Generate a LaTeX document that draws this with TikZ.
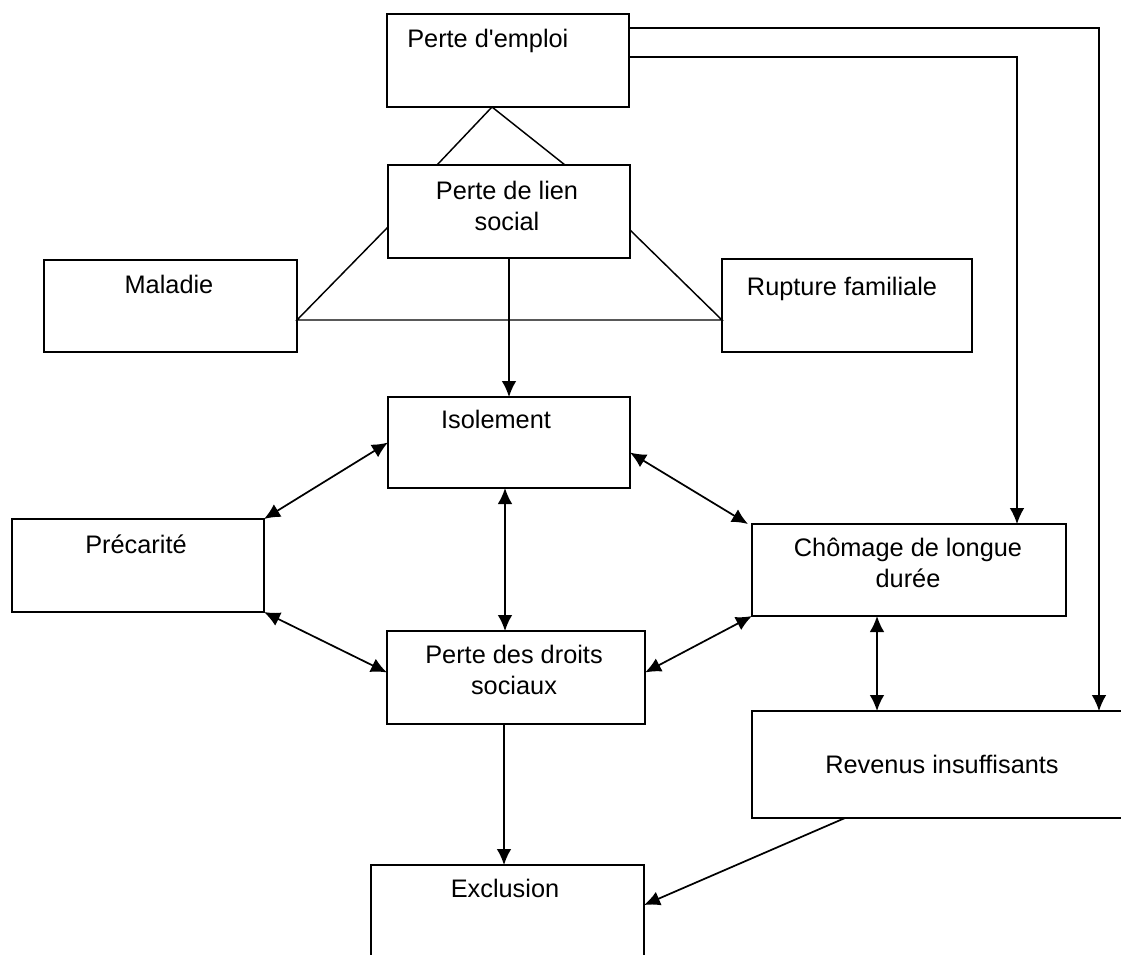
\documentclass[tikz,border=0pt]{standalone}
\usepackage{fontspec}
\setmainfont{Liberation Sans}
\usetikzlibrary{arrows.meta,calc}
\tikzset{
  box/.style={draw=black,line width=1.4pt,inner sep=0pt,outer sep=0pt},
  lbl/.style={font=\fontsize{19}{23.25}\selectfont,inner sep=0pt,align=center},
  ln/.style={line width=1.1pt},
  tip/.tip={Latex[length=12pt,width=11pt]},
  arr/.style={line width=1.3pt,-tip},
  darr/.style={line width=1.3pt,tip-tip}
}
\begin{document}
\begin{tikzpicture}[x=0.75pt,y=-0.75pt]
\useasboundingbox (0,0) rectangle (1121,954);
\clip (0,0) rectangle (1121,954);
% boxes
\node[box,minimum width=181.5pt,minimum height=69.75pt] (emploi) at (508,60.5) {};
\node[box,minimum width=181.5pt,minimum height=69.75pt] (lien) at (509,211.5) {};
\node[box,minimum width=189.75pt,minimum height=69pt] (maladie) at (170.5,306) {};
\node[box,minimum width=187.5pt,minimum height=69.75pt] (rupture) at (847,305.5) {};
\node[box,minimum width=181.5pt,minimum height=68.25pt] (isolement) at (509,442.5) {};
\node[box,minimum width=189pt,minimum height=69.75pt] (precarite) at (138,565.5) {};
\node[box,minimum width=235.5pt,minimum height=69pt] (chomage) at (909,570) {};
\node[box,minimum width=193.5pt,minimum height=69.75pt] (droits) at (516,677.5) {};
\node[box,minimum width=283.5pt,minimum height=80.25pt] (revenus) at (941,764.5) {};
\node[box,minimum width=204.75pt,minimum height=82.5pt] (exclusion) at (507.5,920) {};
% texts
\node[lbl,anchor=base west] (temploi) at (407,47) {Perte d\textquotesingle emploi};
\node[lbl,anchor=base] (tlien) at (507,230) {Perte de lien\\social};
\node[lbl,anchor=base] (tmaladie) at (169,293) {Maladie};
\node[lbl,anchor=base] (trupture) at (842,295) {Rupture familiale};
\node[lbl,anchor=base] (tisolement) at (496,428) {Isolement};
\node[lbl,anchor=base] (tprecarite) at (136,553) {Précarité};
\node[lbl,anchor=base] (tchomage) at (908,587) {Chômage de longue\\durée};
\node[lbl,anchor=base] (tdroits) at (514,694) {Perte des droits\\sociaux};
\node[lbl,anchor=base] (trevenus) at (942,773) {Revenus insuffisants};
\node[lbl,anchor=base] (texclusion) at (505,897) {Exclusion};
% plain links
\draw[ln] ($(lien.north)+(-72,0)$) -- ($(emploi.south)+(-16,0)$) -- ($(lien.north)+(56,0)$);
\draw[ln] ($(lien.west)+(0,15.5)$) -- ($(maladie.south east)+(0,-32)$) -- ($(rupture.south west)+(0,-32)$) -- ($(lien.east)+(0,18.5)$);
% arrows
\draw[arr] (lien.south) -- (isolement.north);
\draw[darr] (precarite.north east) -- (isolement.west);
\draw[darr] ($(isolement.east)+(0,10)$) -- ($(chomage.north west)+(-4,0)$);
\draw[darr] ($(isolement.south)+(-4,0)$) -- ($(droits.north)+(-11,0)$);
\draw[darr] (precarite.south east) -- ($(droits.west)+(0,-5)$);
\draw[darr] (chomage.south west) -- ($(droits.east)+(0,-5)$);
\draw[darr] ($(chomage.south)+(-32,0)$) -- ($(revenus.north)+(-64,0)$);
\draw[arr] ($(droits.south)+(-12,0)$) -- ($(exclusion.north)+(-3.5,0)$);
\draw[arr] ($(revenus.south west)+(93,0)$) -- ($(exclusion.north east)+(0,40)$);
\draw[arr,line width=1.1pt] ($(emploi.north east)+(0,14)$) -| ($(revenus.north)+(158,0)$);
\draw[arr,line width=1.1pt] ($(emploi.north east)+(0,43)$) -| ($(chomage.north)+(108,0)$);
\end{tikzpicture}
\end{document}
